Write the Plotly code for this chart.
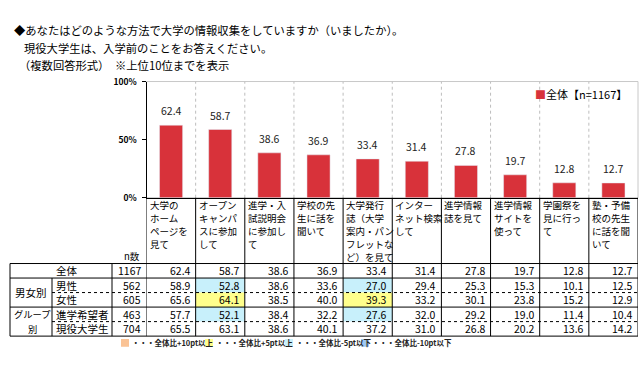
import plotly.graph_objects as go

# ---------------- data ----------------
title_lines = [
    "◆あなたはどのような方法で大学の情報収集をしていますか（いましたか）。",
    "現役大学生は、入学前のことをお答えください。",
    "（複数回答形式）　※上位10位までを表示",
]
category_lines = [
    ["大学の", "ホーム", "ページを", "見て"],
    ["オープン", "キャンパ", "スに参加", "して"],
    ["進学・入", "試説明会", "に参加し", "て"],
    ["学校の先", "生に話を", "聞いて"],
    ["大学発行", "誌（大学", "案内・パン", "フレットな", "ど）を見て"],
    ["インター", "ネット検索", "して"],
    ["進学情報", "誌を見て"],
    ["進学情報", "サイトを", "使って"],
    ["学園祭を", "見に行っ", "て"],
    ["塾・予備", "校の先生", "に話を聞", "いて"],
]
overall = [62.4, 58.7, 38.6, 36.9, 33.4, 31.4, 27.8, 19.7, 12.8, 12.7]
legend_label = "全体【n=1167】"

row_names = ["全体", "男性", "女性", "進学希望者", "現役大学生"]
group_gender = ["男女別"]
group_type = ["グループ", "別"]
n_values = [1167, 562, 605, 463, 704]
male = [58.9, 52.8, 38.6, 33.6, 27.0, 29.4, 25.3, 15.3, 10.1, 12.5]
female = [65.6, 64.1, 38.5, 40.0, 39.3, 33.2, 30.1, 23.8, 15.2, 12.9]
applicants = [57.7, 52.1, 38.4, 32.2, 27.6, 32.0, 29.2, 19.0, 11.4, 10.4]
students = [65.5, 63.1, 38.6, 40.1, 37.2, 31.0, 26.8, 20.2, 13.6, 14.2]
table_rows = [overall, male, female, applicants, students]

key_labels = ["・・・全体比+10pt以上", "・・・全体比+5pt以上", "・・・全体比-5pt以下", "・・・全体比-10pt以下"]
key_colors = ["#fac395", "#ffff8c", "#c8f0fb", "#9fc8f2"]

# ---------------- layout constants ----------------
W, H = 640, 375
FONT = "Noto Sans CJK JP"
BAR = "#d8323a"
PLOT_L, PLOT_R, PLOT_T, PLOT_B = 146.5, 638, 77, 197
TBL_L, GRP_R, SUB_R = 10, 52, 112
TBL_T, ROW_H = 265, 15
TBL_B = TBL_T + ROW_H * len(row_names)


def px(x):
    return x / W


def py(y):
    return 1 - y / H


n_cat = len(overall)
fig = go.Figure()
fig.add_trace(go.Bar(x=list(range(n_cat)), y=overall, marker_color=BAR, width=0.47,
                     hoverinfo="skip", showlegend=False))
fig.add_trace(go.Scatter(x=[0], y=[0], yaxis="y2", mode="markers", marker_opacity=0,
                         hoverinfo="skip", showlegend=False))

shapes = []
ann = []

# plot frame (light) + dotted column separators
shapes.append(dict(type="rect", xref="paper", yref="paper", x0=px(PLOT_L), x1=px(PLOT_R),
                   y0=py(PLOT_B), y1=py(PLOT_T), line=dict(color="#c8c8c8", width=1), layer="below"))
for i in range(n_cat - 1):
    shapes.append(dict(type="line", xref="x", yref="y", x0=i + 0.5, x1=i + 0.5, y0=0, y1=100,
                       line=dict(color="#bdbdbd", width=1, dash="dot"), layer="below"))

# solid column lines under the axis (category labels + table)
for i in range(n_cat + 1):
    shapes.append(dict(type="line", xref="x", yref="paper", x0=i - 0.5, x1=i - 0.5,
                       y0=py(PLOT_B), y1=py(TBL_B), line=dict(color="black", width=1)))
# left table verticals
shapes.append(dict(type="line", xref="paper", yref="paper", x0=px(TBL_L), x1=px(TBL_L),
                   y0=py(TBL_T), y1=py(TBL_B), line=dict(color="black", width=1)))
shapes.append(dict(type="line", xref="paper", yref="paper", x0=px(SUB_R), x1=px(SUB_R),
                   y0=py(TBL_T), y1=py(TBL_B), line=dict(color="black", width=1)))
shapes.append(dict(type="line", xref="paper", yref="paper", x0=px(GRP_R), x1=px(GRP_R),
                   y0=py(TBL_T + ROW_H), y1=py(TBL_B), line=dict(color="black", width=1)))
# table horizontals
for r in range(len(row_names) + 1):
    y = TBL_T + ROW_H * r
    dotted = r in (2, 4)
    shapes.append(dict(type="line", xref="paper", yref="paper",
                       x0=px(GRP_R if dotted else TBL_L), x1=px(PLOT_R), y0=py(y), y1=py(y),
                       line=dict(color="black", width=1, dash="dot" if dotted else "solid")))

# highlighted cells (difference to overall)
for r in range(1, len(table_rows)):
    for i in range(n_cat):
        d = table_rows[r][i] - overall[i]
        col = None
        if d >= 10:
            col = key_colors[0]
        elif d >= 5:
            col = key_colors[1]
        elif d <= -10:
            col = key_colors[3]
        elif d <= -5:
            col = key_colors[2]
        if col:
            shapes.append(dict(type="rect", xref="x", yref="y2", x0=i - 0.5, x1=i + 0.5,
                               y0=r, y1=r + 1, fillcolor=col, line=dict(width=0), layer="below"))

# bar value labels
for i, v in enumerate(overall):
    ann.append(dict(xref="x", yref="y", x=i, y=v, text=f"{v:.1f}", showarrow=False,
                    yanchor="bottom", yshift=5, font=dict(family=FONT, size=10.5, color="#222")))

# category labels
for i, lines in enumerate(category_lines):
    for k, t in enumerate(lines):
        ann.append(dict(xref="x", yref="paper", x=i - 0.5, y=py(205 + 13.3 * k), text=t,
                        showarrow=False, xanchor="left", yanchor="middle", xshift=1,
                        font=dict(family=FONT, size=9.5, color="black")))

# table values
for r, vals in enumerate(table_rows):
    for i, v in enumerate(vals):
        ann.append(dict(xref="x", yref="y2", x=i + 0.5, y=r + 0.5, text=f"{v:.1f}",
                        showarrow=False, xanchor="right", yanchor="middle", xshift=-3,
                        font=dict(family=FONT, size=10.5, color="black")))
    ann.append(dict(xref="paper", yref="y2", x=px(SUB_R + 31), y=r + 0.5, text=str(n_values[r]),
                    showarrow=False, xanchor="right", yanchor="middle",
                    font=dict(family=FONT, size=10.5, color="black")))
    ann.append(dict(xref="paper", yref="y2", x=px(GRP_R + 2), y=r + 0.5, text=row_names[r],
                    showarrow=False, xanchor="left", yanchor="middle",
                    font=dict(family=FONT, size=10.5, color="black")))
ann.append(dict(xref="paper", yref="y2", x=px((TBL_L + GRP_R) / 2), y=2, text=group_gender[0],
                showarrow=False, xanchor="center", yanchor="middle",
                font=dict(family=FONT, size=10.5, color="black")))
for k, t in enumerate(group_type):
    ann.append(dict(xref="paper", yref="y2", x=px((TBL_L + GRP_R) / 2 + 1), y=3.5 + k, text=t,
                    showarrow=False, xanchor="center", yanchor="middle", borderpad=0,
                    font=dict(family=FONT, size=9.3, color="black")))
ann.append(dict(xref="paper", yref="paper", x=px(SUB_R + 30), y=py(257.5), text="n数",
                showarrow=False, xanchor="right", yanchor="middle",
                font=dict(family=FONT, size=9.5, color="black")))

# title
for k, (t, x, y) in enumerate(zip(title_lines, [12, 22, 17], [24, 42, 60])):
    ann.append(dict(xref="paper", yref="paper", x=px(x), y=py(y), text=t, showarrow=False,
                    xanchor="left", yanchor="middle", font=dict(family=FONT, size=11.3, color="black")))

# series legend
ann.append(dict(xref="paper", yref="paper", x=px(533), y=py(90),
                text=f"<span style='color:{BAR}'>■</span>{legend_label}", showarrow=False,
                xanchor="left", yanchor="middle", font=dict(family=FONT, size=11, color="black")))

# colour key
for x0, lab, col in zip([121, 205, 285, 361], key_labels, key_colors):
    shapes.append(dict(type="rect", xref="paper", yref="paper", x0=px(x0), x1=px(x0 + 8),
                       y0=py(351), y1=py(343), fillcolor=col, line=dict(width=0)))
    ann.append(dict(xref="paper", yref="paper", x=px(x0 + 9), y=py(347), text=f"<b>{lab}</b>",
                    showarrow=False, xanchor="left", yanchor="middle",
                    font=dict(family=FONT, size=7.5, color="#222")))

fig.update_layout(
    width=W, height=H, margin=dict(l=0, r=0, t=0, b=0),
    paper_bgcolor="white", plot_bgcolor="white", showlegend=False,
    xaxis=dict(domain=[px(PLOT_L), px(PLOT_R)], range=[-0.5, n_cat - 0.5], showticklabels=False,
               showline=True, linecolor="black", linewidth=1, showgrid=False, zeroline=False,
               ticks="", fixedrange=True),
    yaxis=dict(domain=[py(PLOT_B), py(PLOT_T)], range=[0, 100], tickvals=[0, 50, 100],
               ticktext=["0%", "50%", "100%"], ticks="outside", ticklen=4, tickcolor="black",
               ticklabelstandoff=3,
               showline=True, linecolor="black", linewidth=1, showgrid=False, zeroline=False,
               tickfont=dict(family=FONT, size=8.5, color="black", weight="bold"), fixedrange=True),
    yaxis2=dict(domain=[py(TBL_B), py(TBL_T)], range=[len(row_names), 0], visible=False,
                anchor="x", fixedrange=True),
    shapes=shapes, annotations=ann,
)

fig.write_html("out.html", config={"displayModeBar": False},
               post_script="document.body.style.margin='0';document.body.style.overflow='hidden';")
